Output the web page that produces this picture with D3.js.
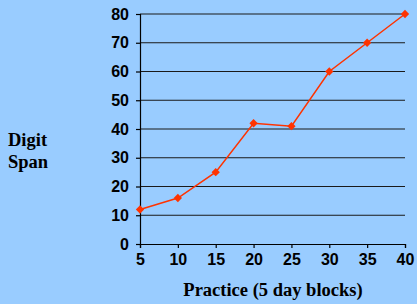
<!DOCTYPE html>
<html>
<head>
<meta charset="utf-8">
<script src="https://cdn.jsdelivr.net/npm/d3@7"></script>
<style>
  html, body { margin: 0; padding: 0; background: #99CCFF; }
  svg { display: block; }
</style>
</head>
<body>
<div id="chart"></div>
<script>
// practice blocks and digit span values
const blocks = [5, 10, 15, 20, 25, 30, 35, 40];
const span = [12, 16, 25, 42, 41, 60, 70, 80];
const yTicks = [0, 10, 20, 30, 40, 50, 60, 70, 80];

const W = 417, H = 304;
const margin = { top: 14, right: 12, bottom: 60, left: 140 };
const width = W - margin.left - margin.right;
const height = H - margin.top - margin.bottom;

const svg = d3.select("#chart")
    .append("svg")
    .attr("width", W)
    .attr("height", H)
    .style("background", "#99CCFF");

const g = svg.append("g")
    .attr("transform", `translate(${margin.left},${margin.top})`);

const x = d3.scaleLinear().domain([5, 40]).range([0, width]);
const y = d3.scaleLinear().domain([0, 80]).range([height, 0]);

// horizontal grid lines
g.selectAll(".grid")
    .data(yTicks.filter(d => d > 0))
    .enter()
    .append("line")
    .attr("x1", 0)
    .attr("x2", width)
    .attr("y1", d => y(d))
    .attr("y2", d => y(d))
    .attr("stroke", "#1a1a1a")
    .attr("stroke-width", 1.2);

// axes
const yAxis = g.append("g")
    .call(d3.axisLeft(y).tickValues(yTicks).tickSize(4).tickPadding(7));
const xAxis = g.append("g")
    .attr("transform", `translate(0,${height})`)
    .call(d3.axisBottom(x).tickValues(blocks).tickSize(4).tickPadding(6));

[yAxis, xAxis].forEach(a => {
    a.select(".domain").attr("stroke", "#000").attr("stroke-width", 1.2);
    a.selectAll(".tick line").attr("stroke", "#000").attr("stroke-width", 1.2);
    a.selectAll("text")
        .attr("fill", "#000")
        .style("font-family", "'Liberation Sans', Arial, sans-serif")
        .style("font-weight", "bold")
        .style("font-size", "16px");
});

// line
const line = d3.line()
    .x((d, i) => x(blocks[i]))
    .y(d => y(d));

g.append("path")
    .datum(span)
    .attr("d", line)
    .attr("fill", "none")
    .attr("stroke", "#FF3300")
    .attr("stroke-width", 1.5);

// diamond markers
g.selectAll(".pt")
    .data(span)
    .enter()
    .append("path")
    .attr("d", d3.symbol().type(d3.symbolDiamond2).size(44))
    .attr("transform", (d, i) => `translate(${x(blocks[i])},${y(d)})`)
    .attr("fill", "#FF3300");

// titles
svg.append("text")
    .attr("x", 273)
    .attr("y", 296)
    .attr("text-anchor", "middle")
    .style("font-family", "'Liberation Serif', 'Times New Roman', serif")
    .style("font-weight", "bold")
    .style("font-size", "18.5px")
    .text("Practice (5 day blocks)");

const yt = svg.append("text")
    .style("font-family", "'Liberation Serif', 'Times New Roman', serif")
    .style("font-weight", "bold")
    .style("font-size", "18.5px");
yt.append("tspan").attr("x", 8).attr("y", 146).text("Digit");
yt.append("tspan").attr("x", 8).attr("y", 168).text("Span");
</script>
</body>
</html>
